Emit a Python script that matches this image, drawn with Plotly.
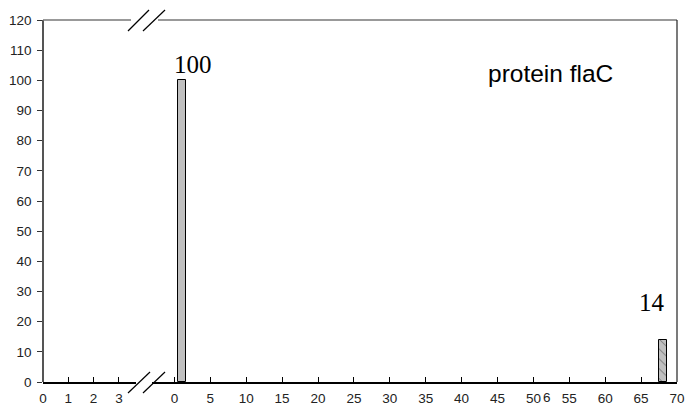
import plotly.graph_objects as go

# ---- data ----
bar_positions = [1, 68]
bar_values = [100, 14]
bar_labels = ["100", "14"]
bar_patterns = ["", "\\"]
seg1_ticks = [0, 1, 2, 3]
seg2_ticks = [0, 5, 10, 15, 20, 25, 30, 35, 40, 45, 50, 55, 60, 65, 70]
y_ticks = list(range(0, 121, 10))
title_text = "protein flaC"

W, H = 686, 410
L, R, T, B = 43, 9, 20, 28
PW, PH = W - L - R, H - T - B


def px(x):
    return (x - L) / PW


def py(y):
    return (H - B - y) / PH


seg1_end = px(136)
seg2_start = px(152)
seg1_range = [0, (136 - L) / 25.3]
ppu2 = (677 - 174.4) / 70.0
seg2_range = [-(174.4 - 152) / ppu2, (677 - 174.4) / ppu2]

fig = go.Figure()
# invisible trace so that the first axis segment is drawn
fig.add_trace(go.Scatter(x=seg1_ticks, y=[None] * len(seg1_ticks), xaxis="x", yaxis="y",
                         mode="markers", showlegend=False, hoverinfo="skip"))
fig.add_trace(go.Bar(
    x=bar_positions, y=bar_values, xaxis="x2", yaxis="y",
    width=1.1,
    marker=dict(color="#c0c0c0", line=dict(color="#000", width=1),
                pattern=dict(shape=bar_patterns, fgcolor="#000", bgcolor="#c0c0c0",
                             size=7, solidity=0.12)),
    showlegend=False, hoverinfo="skip",
))

font = dict(family="Liberation Sans, Arial", size=13.5, color="#222")

fig.update_layout(
    width=W, height=H, margin=dict(l=L, r=R, t=T, b=B, autoexpand=False),
    paper_bgcolor="white", plot_bgcolor="white",
    showlegend=False, bargap=0,
    xaxis=dict(domain=[0, seg1_end], range=seg1_range, tickvals=seg1_ticks,
               ticks="inside", ticklen=5, tickcolor="#000", showgrid=False, zeroline=False,
               showline=True, linecolor="#000", linewidth=2, tickfont=font,
               ticklabelstandoff=3, anchor="y", automargin=False),
    xaxis2=dict(domain=[seg2_start, 1], range=seg2_range, tickvals=seg2_ticks,
                ticks="inside", ticklen=5, tickcolor="#000", showgrid=False, zeroline=False,
                showline=True, linecolor="#000", linewidth=2, tickfont=font,
                ticklabelstandoff=3, anchor="y", automargin=False),
    yaxis=dict(range=[0, 120], tickvals=y_ticks, ticks="outside", ticklen=5,
               tickcolor="#333", showgrid=False, zeroline=False, showline=True,
               linecolor="#555", linewidth=1.5, tickfont=font, ticklabelstandoff=3,
               anchor="free", position=0, automargin=False),
    yaxis2=dict(range=[0, 120], tickvals=y_ticks, ticks="inside", ticklen=6,
                tickcolor="#333", showgrid=False, zeroline=False, showline=False,
                showticklabels=False, overlaying="y", side="left",
                anchor="free", position=0, automargin=False),
)

shapes = []
# top frame line (with gap) and right border
shapes.append(dict(type="line", xref="paper", yref="paper", x0=0, x1=px(131), y0=1, y1=1,
                   line=dict(color="#777", width=1.5)))
shapes.append(dict(type="line", xref="paper", yref="paper", x0=px(158), x1=1, y0=1, y1=1,
                   line=dict(color="#777", width=1.5)))
shapes.append(dict(type="line", xref="paper", yref="paper", x0=1, x1=1, y0=0, y1=1,
                   line=dict(color="#222", width=1.2)))
# break marks bottom and top
for (x0, y0, x1, y1) in [(128, 393, 150, 372), (143, 393, 165, 372),
                         (128, 31, 149, 10), (143, 31, 165, 10)]:
    shapes.append(dict(type="line", xref="paper", yref="paper",
                       x0=px(x0), y0=py(y0), x1=px(x1), y1=py(y1),
                       line=dict(color="#000", width=1.2)))
fig.update_layout(shapes=shapes)

annotations = []
shifts = [11, -11]
yshifts = [0, 22]
for xv, yv, lab, xs, ys in zip(bar_positions, bar_values, bar_labels, shifts, yshifts):
    annotations.append(dict(x=xv, y=yv, xref="x2", yref="y", text=lab, showarrow=False,
                            xanchor="center", yanchor="bottom", xshift=xs, yshift=ys,
                            font=dict(family="Liberation Serif, Times New Roman", size=25,
                                      color="#000")))
annotations.append(dict(x=px(550), y=py(73), xref="paper", yref="paper", text=title_text,
                        showarrow=False, xanchor="center", yanchor="middle",
                        font=dict(family="Liberation Sans, Arial", size=24.5, color="#000")))
# stray "6" tick label next to 50
annotations.append(dict(x=px(547), y=py(397), xref="paper", yref="paper", text="6",
                        showarrow=False, xanchor="center", yanchor="middle", font=font))
fig.update_layout(annotations=annotations)

fig.write_html("out.html")
